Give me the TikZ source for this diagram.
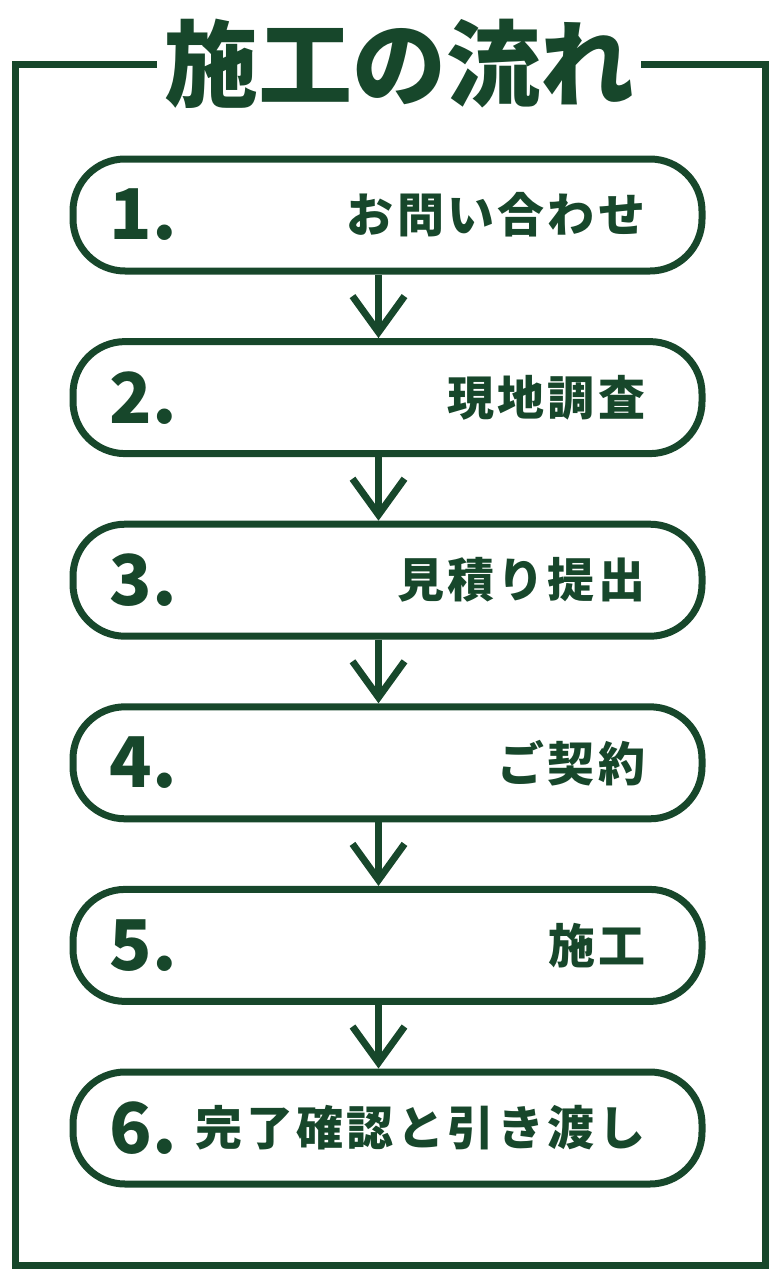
\documentclass[tikz,border=0pt]{standalone}
\usepackage{fontspec}
\setmainfont{Noto Sans CJK JP}
\usetikzlibrary{arrows.meta}
\definecolor{kgreen}{HTML}{17472B}
\tikzset{
  stepbox/.style={draw=kgreen,line width=7pt,rounded corners=52pt,minimum width=629pt,minimum height=112pt},
  numtext/.style={text=kgreen,font=\bfseries\fontsize{70}{70}\selectfont,inner sep=0pt},
  steptext/.style={text=kgreen,font=\bfseries\fontsize{47}{47}\selectfont\addfontfeature{LetterSpace=7},inner sep=0pt},
  flow/.style={draw=kgreen,line width=7pt,-{Straight Barb[length=36pt,width=52pt]}}
}
\begin{document}
\begin{tikzpicture}[x=1pt,y=-1pt]
  \useasboundingbox (0,0) rectangle (780,1285);
  % title and frame
  \node[text=kgreen,font=\bfseries\fontsize{94}{94}\selectfont,inner xsep=7pt,inner ysep=0pt](title)at(399,64){施工の流れ};
  \draw[kgreen,line width=7pt,line join=miter](title.west)-|(15,1265)-|(765,64)--(title.east);
  % steps
  \foreach \i/\txt in {1/お問い合わせ,2/現地調査,3/見積り提出,4/ご契約,5/施工,6/完了確認と引き渡し}{
    \node[stepbox]at(387.5,215+182.6*\i-182.6)(box\i){};
    \node[numtext,anchor=west]at([xshift=40pt]box\i.west)(num\i){\i.};
    \node[steptext,anchor=east]at([xshift=-60pt]box\i.east)(lbl\i){\txt};
  }
  \foreach \i/\j in {1/2,2/3,3/4,4/5,5/6}
    \draw[flow]([xshift=-9pt]box\i.south)--([xshift=-9pt]box\j.north);
\end{tikzpicture}
\end{document}
